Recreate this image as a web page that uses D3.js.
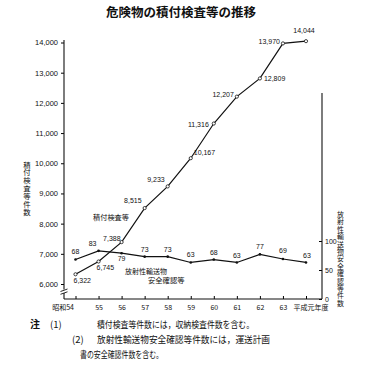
<!DOCTYPE html>
<html>
<head>
<meta charset="utf-8">
<script src="https://cdn.jsdelivr.net/npm/d3@7"></script>
<style>
    body { margin: 0; background: #fff; }
    text { font-family: "Noto Sans CJK JP", sans-serif; fill: #111; }
    .num { font-family: "Liberation Sans Narrow", "Liberation Sans", sans-serif; }
    .vert { writing-mode: vertical-rl; text-orientation: upright; }
</style>
</head>
<body>
<div id="chart"></div>
<script>
// 年度
const years = ['54', '55', '56', '57', '58', '59', '60', '61', '62', '63', '元'];
const yearLabels = ['昭和54', '55', '56', '57', '58', '59', '60', '61', '62', '63', '平成元年度'];

// 積付検査等件数
const inspections = [6322, 6745, 7388, 8515, 9233, 10167, 11316, 12207, 12809, 13970, 14044];
// 放射性輸送物安全確認等件数
const confirmations = [68, 83, 79, 73, 73, 63, 68, 63, 77, 69, 63];

const leftTicks = [6000, 7000, 8000, 9000, 10000, 11000, 12000, 13000, 14000];
const rightTicks = [0, 50, 100];

const notes = [
    '積付検査等件数には，収納検査件数を含む。',
    '放射性輸送物安全確認等件数には，運送計画',
    '書の安全確認件数を含む。'
];

// ラベルの置き方 [anchor, dx, dy]
const inspLabelPos = [
    ['start', -2, 9], ['start', -2, 8.5], ['end', -1, -1], ['end', -3, -5],
    ['end', -3, -4.5], ['start', 3, -3], ['end', -5, 3], ['end', -3, 0],
    ['start', 4, 3], ['end', -3, 1], ['middle', -2, -8]
];
const confLabelPos = [
    ['middle', 0, -6], ['middle', -6, -5], ['middle', 0, 8], ['middle', 0, -5],
    ['middle', 0, -5], ['middle', 0, -5], ['middle', 0, -5], ['middle', 0, -4],
    ['middle', 0, -5], ['middle', 0, -6], ['middle', 1, -4]
];

const width = 374, height = 372;

const svg = d3.select('#chart').append('svg')
    .attr('width', width)
    .attr('height', height);

const x = d3.scalePoint().domain(years).range([75.5, 306]);
const yL = d3.scaleLinear().domain([6000, 14000]).range([284, 42.5]);
const yR = d3.scaleLinear().domain([0, 100]).range([299, 241]);

const axisY = 299, leftX = 64, rightX = 322;

// タイトル
svg.append('text')
    .attr('x', 181).attr('y', 17)
    .attr('text-anchor', 'middle')
    .style('font-size', '12.5px')
    .style('font-weight', 'bold')
    .text('危険物の積付検査等の推移');

// 左軸
const gL = svg.append('g')
    .attr('transform', `translate(${leftX},0)`)
    .call(d3.axisLeft(yL).tickValues(leftTicks).tickSize(3).tickPadding(3)
        .tickFormat(d3.format(',')));
gL.select('.domain').remove();
gL.selectAll('text').attr('class', 'num').style('font-size', '7.5px').attr('font-family', null);
gL.append('line').attr('x1', 0).attr('x2', 0).attr('y1', 40).attr('y2', axisY)
    .attr('stroke', '#111').attr('stroke-width', 1.1);

// 軸の省略記号
const brk = svg.append('g');
brk.append('rect').attr('x', leftX - 2).attr('y', 289.5).attr('width', 4).attr('height', 3.5).attr('fill', '#fff');
[289, 291.8].forEach(v => {
    brk.append('line').attr('x1', leftX - 3.5).attr('y1', v + 2.5).attr('x2', leftX + 3.5).attr('y2', v)
        .attr('stroke', '#111').attr('stroke-width', 0.9);
});

// 右軸
const gR = svg.append('g')
    .attr('transform', `translate(${rightX},0)`)
    .call(d3.axisRight(yR).tickValues(rightTicks).tickSizeInner(-3).tickSizeOuter(0).tickPadding(3));
gR.select('.domain').remove();
gR.selectAll('text').attr('class', 'num').style('font-size', '7px').attr('font-family', null);
gR.append('line').attr('x1', 0).attr('x2', 0).attr('y1', 93).attr('y2', axisY)
    .attr('stroke', '#111').attr('stroke-width', 1.1);

// 下軸
const gB = svg.append('g')
    .attr('transform', `translate(0,${axisY})`)
    .call(d3.axisBottom(x).tickSizeInner(-3).tickSizeOuter(0).tickPadding(6)
        .tickFormat((d, i) => yearLabels[i]));
gB.select('.domain').remove();
gB.append('line').attr('x1', leftX).attr('x2', rightX).attr('y1', 0).attr('y2', 0)
    .attr('stroke', '#111').attr('stroke-width', 1.1);
gB.selectAll('text').style('font-size', '7px').attr('font-family', null)
    .attr('text-anchor', (d, i) => i === 0 ? 'end' : i === years.length - 1 ? 'start' : 'middle')
    .attr('dx', (d, i) => i === 0 ? -2 : i === years.length - 1 ? -13 : 0);

// 軸タイトル(縦書き)
svg.append('text').attr('class', 'vert')
    .attr('x', 27).attr('y', 161)
    .style('font-size', '7.4px').style('letter-spacing', '0.5px')
    .text('積付検査等件数');
svg.append('text').attr('class', 'vert')
    .attr('x', 340.5).attr('y', 211)
    .style('font-size', '6.9px').style('letter-spacing', '0.5px')
    .text('放射性輸送物安全確認等件数');

// 積付検査等の線
const lineL = d3.line().x((d, i) => x(years[i])).y(d => yL(d));
svg.append('path').datum(inspections)
    .attr('d', lineL).attr('fill', 'none').attr('stroke', '#111').attr('stroke-width', 1.2);
svg.selectAll('.pt-l').data(inspections).enter().append('circle')
    .attr('class', 'pt-l')
    .attr('cx', (d, i) => x(years[i])).attr('cy', d => yL(d))
    .attr('r', 1.6).attr('fill', '#fff').attr('stroke', '#111').attr('stroke-width', 0.8);
svg.selectAll('.lb-l').data(inspections).enter().append('text')
    .attr('class', 'num')
    .attr('x', (d, i) => x(years[i]) + inspLabelPos[i][1])
    .attr('y', (d, i) => yL(d) + inspLabelPos[i][2])
    .attr('text-anchor', (d, i) => inspLabelPos[i][0])
    .style('font-size', '7px')
    .text(d => d3.format(',')(d));

// 放射性輸送物安全確認等の線
const lineR = d3.line().x((d, i) => x(years[i])).y(d => yR(d));
svg.append('path').datum(confirmations)
    .attr('d', lineR).attr('fill', 'none').attr('stroke', '#111').attr('stroke-width', 1.2);
svg.selectAll('.pt-r').data(confirmations).enter().append('circle')
    .attr('class', 'pt-r')
    .attr('cx', (d, i) => x(years[i])).attr('cy', d => yR(d))
    .attr('r', 1.3).attr('fill', '#111');
svg.selectAll('.lb-r').data(confirmations).enter().append('text')
    .attr('class', 'num')
    .attr('x', (d, i) => x(years[i]) + confLabelPos[i][1])
    .attr('y', (d, i) => yR(d) + confLabelPos[i][2])
    .attr('text-anchor', (d, i) => confLabelPos[i][0])
    .style('font-size', '7px')
    .text(d => d);

// 系列名
svg.append('text').attr('x', 93).attr('y', 220).style('font-size', '7.2px').text('積付検査等');
svg.append('text').attr('x', 125).attr('y', 274).style('font-size', '7px').text('放射性輸送物');
svg.append('text').attr('x', 148).attr('y', 283).style('font-size', '7.3px').text('安全確認等');

// 注
svg.append('text').attr('x', 30).attr('y', 328).style('font-size', '10px').style('font-weight', 'bold').text('注');
svg.append('text').attr('x', 50).attr('y', 328).style('font-size', '9.5px').text('(1)');
svg.append('text').attr('x', 72).attr('y', 343).style('font-size', '9.5px').text('(2)');
const noteX = [97, 97, 80], noteY = [328, 343, 358], noteW = [157, 173, 83];
notes.forEach((t, i) => {
    svg.append('text')
        .attr('x', noteX[i]).attr('y', noteY[i])
        .attr('textLength', noteW[i]).attr('lengthAdjust', 'spacingAndGlyphs')
        .style('font-size', '9.5px')
        .text(t);
});
</script>
</body>
</html>
